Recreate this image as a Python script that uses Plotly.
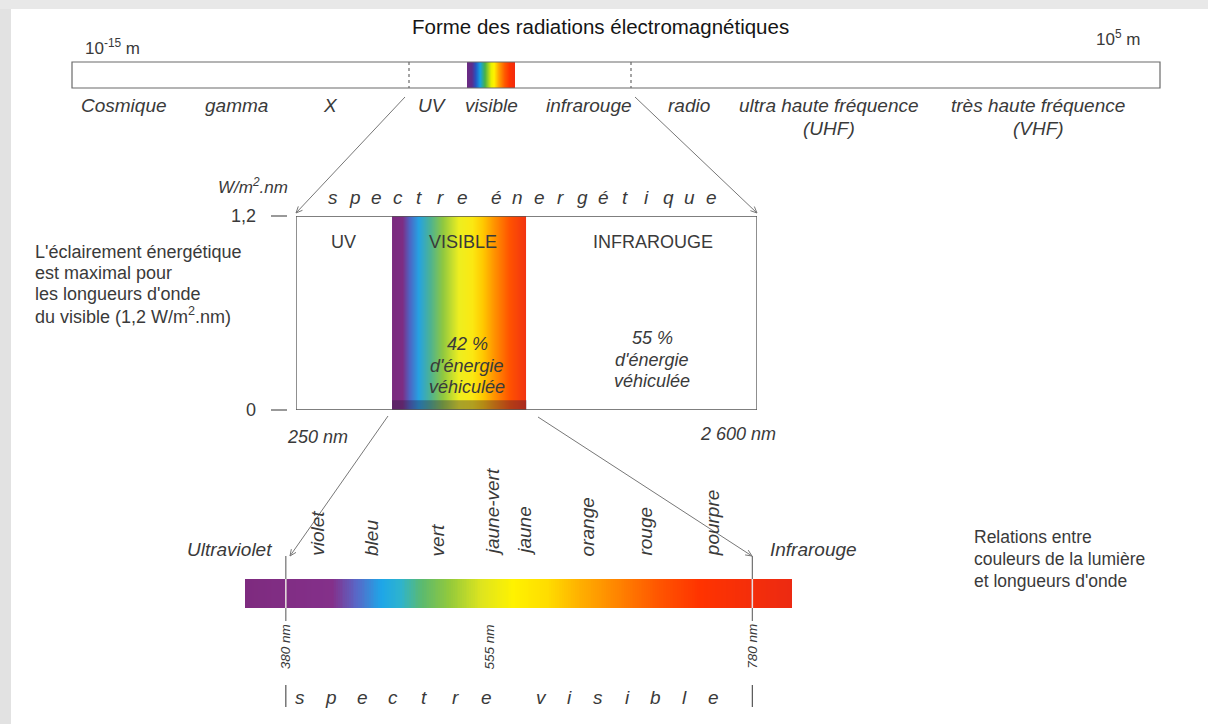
import numpy as np
import plotly.graph_objects as go

W, H = 1208, 724
FONT = "Liberation Sans, Arial, sans-serif"
INK = "#3a3a3a"
LINE = "#6a6a6a"

# ---------------- data ----------------
title_text = "Forme des radiations électromagnétiques"
scale_min_label = "10<sup>-15</sup> m"
scale_max_label = "10<sup>5</sup> m"
em_labels = ["Cosmique", "gamma", "X", "UV", "visible", "infrarouge", "radio",
             "ultra haute fréquence", "très haute fréquence"]
em_sublabels = ["", "", "", "", "", "", "", "(UHF)", "(VHF)"]

box_regions = ["UV", "VISIBLE", "INFRAROUGE"]
energy_pct = [None, 42, 55]          # % d'énergie véhiculée
irr_ticks = [0, 1.2]                 # W/m2.nm
irr_ticktext = ["0", "1,2"]
irr_unit = "<i>W/m<sup>2</sup>.nm</i>"
box_range_nm = [250, 2600]
box_note = ["L'éclairement énergétique", "est maximal pour",
            "les longueurs d'onde", "du visible (1,2 W/m<sup>2</sup>.nm)"]

colour_names = ["violet", "bleu", "vert", "jaune-vert", "jaune", "orange", "rouge", "pourpre"]
colour_nm = [407, 453, 510, 557, 584, 639, 688, 746]
marker_nm = [380, 555, 780]
visible_limits_nm = [380, 780]
bar_range_nm = [345, 814]
right_note = ["Relations entre", "couleurs de la lumière", "et longueurs d'onde"]

# colour stops of the three spectra
bar_stop_nm = [345, 420, 440, 462, 478, 497, 520, 548, 575, 605, 630, 660, 700, 735, 814]
bar_stop_col = ["#7e2b7f", "#84308a", "#5a66c6", "#1ea6e8", "#2db3cf", "#5cba6e", "#92c93c",
                "#dfe51e", "#fff200", "#ffdc00", "#ffb300", "#ff8a00", "#ff5500", "#ff3300", "#ec2a12"]
mid_stop_f = [0, 0.08, 0.13, 0.2, 0.29, 0.38, 0.5, 0.6, 0.68, 0.76, 0.88, 1.0]
mid_stop_col = ["#7a2a7e", "#7d2d84", "#4f62c2", "#25a2e2", "#4fb38f", "#8fc840", "#eeee20",
                "#fbe812", "#ffc800", "#ff9500", "#ff5200", "#f23410"]
top_stop_f = [0, 0.1, 0.18, 0.27, 0.37, 0.5, 0.56, 0.66, 0.78, 0.88, 1]
top_stop_col = ["#6c2a82", "#5a2d8c", "#2456c4", "#14a2e2", "#46b04a", "#e8f000", "#fff200",
                "#ffa200", "#ff5a00", "#ff3300", "#f02a10"]

# ---------------- layout geometry (pixels of the canvas) ----------------
em_label_x = [124, 236, 330, 432, 491, 589, 689, 829, 1038]
region_edges = [0, 0.2083, 0.5, 1.0]   # fractions of the energy box
box_px = (296, 757, 216, 410)           # x0, x1, ytop, ybottom


def scale(stops, cols, lo, hi):
    return [[(s - lo) / (hi - lo), c] for s, c in zip(stops, cols)]


fig = go.Figure()

# --- top band (electromagnetic scale) ---
tx = np.linspace(467, 515, 97)
tc = (tx[:-1] + tx[1:]) / 2
fig.add_trace(go.Heatmap(x=tx, y=[62, 88], z=[(tc - 467) / 48], zmin=0, zmax=1,
                         colorscale=scale(top_stop_f, top_stop_col, 0, 1),
                         showscale=False, hoverinfo="skip", xaxis="x", yaxis="y"))

# --- middle band (visible part of the energy spectrum) ---
mx = np.linspace(region_edges[1], region_edges[2], 135)
mc = (mx[:-1] + mx[1:]) / 2
fig.add_trace(go.Heatmap(x=mx, y=[0, irr_ticks[1]],
                         z=[(mc - region_edges[1]) / (region_edges[2] - region_edges[1])],
                         zmin=0, zmax=1, colorscale=scale(mid_stop_f, mid_stop_col, 0, 1),
                         showscale=False, hoverinfo="skip", xaxis="x3", yaxis="y3"))

# --- bottom spectrum bar, on a wavelength axis ---
bx = np.linspace(bar_range_nm[0], bar_range_nm[1], 301)
bc = (bx[:-1] + bx[1:]) / 2
fig.add_trace(go.Heatmap(x=bx, y=[579, 608], z=[bc], zmin=bar_range_nm[0], zmax=bar_range_nm[1],
                         colorscale=scale(bar_stop_nm, bar_stop_col, *bar_range_nm),
                         showscale=False, hoverinfo="skip", xaxis="x2", yaxis="y"))

shapes = []
# page shadow (left and top edges only)
shapes.append(dict(type="rect", xref="x", yref="y", x0=0, x1=11, y0=0, y1=H,
                   fillcolor="#e2e2e2", line=dict(width=0), layer="below"))
shapes.append(dict(type="rect", xref="x", yref="y", x0=0, x1=W, y0=0, y1=9,
                   fillcolor="#e8e8e8", line=dict(width=0), layer="below"))
# top bar
shapes.append(dict(type="rect", xref="x", yref="y", x0=72, x1=1160, y0=62, y1=88,
                   line=dict(color=LINE, width=1.2)))
for xd in (409, 631):
    shapes.append(dict(type="line", xref="x", yref="y", x0=xd, x1=xd, y0=62, y1=88,
                       line=dict(color=LINE, width=1.2, dash="dot")))
# dark base of the middle band
shapes.append(dict(type="rect", xref="x3", yref="y3", x0=region_edges[1], x1=region_edges[2],
                   y0=0, y1=0.06, fillcolor="rgba(40,25,60,0.35)", line=dict(width=0)))
# energy box
shapes.append(dict(type="rect", xref="x3", yref="y3", x0=0, x1=1, y0=0, y1=irr_ticks[1],
                   line=dict(color="#555555", width=1.3)))
# tick dashes
for yt in (box_px[2], box_px[3]):
    shapes.append(dict(type="line", xref="x", yref="y", x0=271, x1=287, y0=yt, y1=yt,
                       line=dict(color="#555555", width=1.2)))
# visible limits on the spectrum bar
for nm in visible_limits_nm:
    shapes.append(dict(type="line", xref="x2", yref="y", x0=nm, x1=nm, y0=556, y1=621,
                       line=dict(color="#707070", width=1.2)))
    shapes.append(dict(type="line", xref="x2", yref="y", x0=nm, x1=nm, y0=579, y1=608,
                       line=dict(color="rgba(255,240,245,0.85)", width=1.5)))
    shapes.append(dict(type="line", xref="x2", yref="y", x0=nm, x1=nm, y0=685, y1=707,
                       line=dict(color="#555555", width=1.2)))


def arrow(x0, y0, x1, y1, head=7, spread=0.42):
    shapes.append(dict(type="line", xref="x", yref="y", x0=x0, y0=y0, x1=x1, y1=y1,
                       line=dict(color="#777777", width=1)))
    ang = np.arctan2(y0 - y1, x0 - x1)
    pts = []
    for s in (ang + spread, ang - spread):
        pts.append((x1 + head * np.cos(s), y1 + head * np.sin(s)))
    path = f"M{pts[0][0]:.2f},{pts[0][1]:.2f} L{x1},{y1} L{pts[1][0]:.2f},{pts[1][1]:.2f}"
    shapes.append(dict(type="path", xref="x", yref="y", path=path,
                       line=dict(color="#777777", width=1)))


ann = []


def text(x, y, s, size=19, italic=False, color=INK, xanchor="center", yanchor="middle",
         xref="x", yref="y", angle=0):
    if italic:
        s = "<i>" + s + "</i>"
    ann.append(dict(x=x, y=y, xref=xref, yref=yref, text=s, showarrow=False,
                    font=dict(family=FONT, size=size, color=color),
                    xanchor=xanchor, yanchor=yanchor, textangle=angle))


# title and top scale
text(600, 26, title_text, size=20.5, color="#151515")
text(83, 47, scale_min_label, size=17, xanchor="left")
text(1142, 38, scale_max_label, size=17, xanchor="right")
for lab, sub, xl in zip(em_labels, em_sublabels, em_label_x):
    text(xl, 105, lab, italic=True)
    if sub:
        text(xl, 128, sub, italic=True)

# connectors top -> box
arrow(405, 97, 296, 213)
arrow(635, 97, 757, 213)

# box texts
text(290, 186, irr_unit, size=17, xanchor="right")
text(258, box_px[2], irr_ticktext[1], size=18, xanchor="right")
text(258, box_px[3], irr_ticktext[0], size=18, xanchor="right")
letters1 = "spectre"
letters2 = "énergétique"
for i, ch in enumerate(letters1):
    text(333 + i * 21.5, 197, ch, italic=True)
for i, ch in enumerate(letters2):
    text(333 + 6 * 21.5 + 34 + i * 21.5, 197, ch, italic=True)

region_x = [343, 463, 653]
for r, xr in zip(box_regions, region_x):
    text(xr, 242, r, size=18)
pct_x = [None, 467, 652]
pct_y = [None, 344, 338]
for p, xp, yp in zip(energy_pct, pct_x, pct_y):
    if p is None:
        continue
    text(xp, yp, f"{p} %", size=18, italic=True)
    text(xp, yp + 22, "d'énergie", size=18, italic=True)
    text(xp, yp + 43, "véhiculée", size=18, italic=True)

text(317, 437, f"{box_range_nm[0]} nm", size=18, italic=True)
text(738, 434, f"{box_range_nm[1] // 1000} {box_range_nm[1] % 1000:03d} nm", size=18, italic=True)
for i, line in enumerate(box_note):
    text(33, 252 + i * 21, line, size=18, xanchor="left")

# connectors box -> visible spectrum
arrow(388, 416, 290, 556)
arrow(538, 417, 752, 556)

# bottom spectrum labels
text(229, 549, "Ultraviolet", italic=True)
text(813, 549, "Infrarouge", italic=True)
for name, nm in zip(colour_names, colour_nm):
    text(nm, 558, name, italic=True, xref="x2", yanchor="bottom", angle=-90)
for nm in marker_nm:
    text(nm, 622, f"{nm} nm", size=13.5, italic=True, xref="x2", yanchor="top", angle=-90)

w1 = "spectre"
w2 = "visible"
for i, ch in enumerate(w1):
    text(300 + i * 31, 697, ch, italic=True)
for i, ch in enumerate(w2):
    text(541 + i * 28.7, 697, ch, italic=True)

for i, line in enumerate(right_note):
    text(972, 537 + i * 22, line, size=17.5, xanchor="left")

fig.update_layout(
    width=W, height=H, margin=dict(l=0, r=0, t=0, b=0),
    paper_bgcolor="white", plot_bgcolor="rgba(0,0,0,0)", showlegend=False,
    xaxis=dict(range=[0, W], domain=[0, 1], visible=False, fixedrange=True),
    yaxis=dict(range=[H, 0], domain=[0, 1], visible=False, fixedrange=True),
    xaxis2=dict(range=bar_range_nm, domain=[245 / W, 792 / W], anchor="y", visible=False,
                fixedrange=True),
    xaxis3=dict(range=[0, 1], domain=[box_px[0] / W, box_px[1] / W], anchor="y3",
                visible=False, fixedrange=True),
    yaxis3=dict(range=[0, irr_ticks[1]], domain=[1 - box_px[3] / H, 1 - box_px[2] / H],
                anchor="x3", visible=False, fixedrange=True),
    shapes=shapes, annotations=ann,
)

fig.write_html("out.html", config={"displayModeBar": False, "staticPlot": True},
               post_script="document.body.style.margin='0px';document.body.style.overflow='hidden';"
                           "document.documentElement.style.overflow='hidden';"
                           "document.body.style.background='white';")
